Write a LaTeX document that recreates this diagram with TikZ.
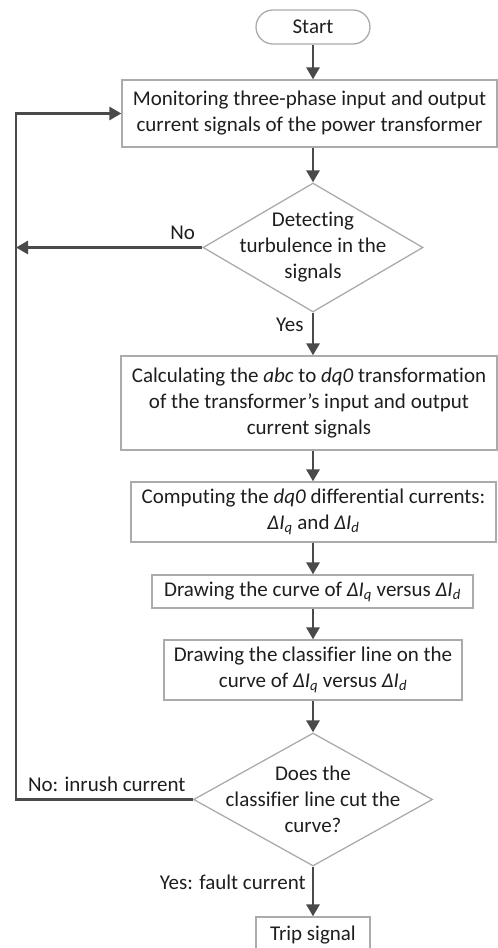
\documentclass[tikz,border=0pt]{standalone}
\usepackage{fontspec}
\setmainfont{Carlito}[Ligatures=NoCommon]
\usetikzlibrary{shapes.geometric,arrows.meta}
\definecolor{linec}{HTML}{4A4A4A}
\definecolor{boxc}{HTML}{ABABAB}
\definecolor{txtc}{HTML}{1E1E1E}
\newcommand{\dIq}{\textit{ΔI\textsubscript{q}}}
\newcommand{\dId}{\textit{ΔI\textsubscript{d}}}
\begin{document}
\begin{tikzpicture}[x=1pt,y=-1pt,
  every node/.style={font=\fontsize{21}{26}\selectfont, text=txtc},
  procbox/.style={draw=boxc, line width=1.3pt, inner sep=0pt, align=center},
  decbox/.style={draw=boxc, line width=1.3pt, shape=diamond, inner sep=0pt},
  dectext/.style={align=center, inner sep=0pt},
  arr/.style={draw=linec, line width=2.8pt, -{Triangle[length=12pt,width=13pt]}},
  lbl/.style={inner sep=0pt}
]
\useasboundingbox (0,0) rectangle (498,948);
\node[procbox, rounded corners=17pt, minimum width=114pt, minimum height=34pt] (start) at (313,27) {Start};
\node[procbox, minimum width=375pt, minimum height=67pt] (b1) at (309.5,113.5) {Monitoring three-phase input and output\\current signals of the power transformer};
\node[decbox, minimum width=220pt, minimum height=129pt] (d1) at (313,247.5) {};
\node[dectext] (d1t) at (d1) {Detecting\\turbulence in the\\signals};
\node[procbox, minimum width=376pt, minimum height=94pt] (b2) at (309,403) {Calculating the \textit{abc} to \textit{dq0} transformation\\of the transformer’s input and output\\current signals};
\node[procbox, minimum width=365pt, minimum height=60pt] (b3) at (313.5,512) {Computing the \textit{dq0} differential currents:\\\dIq{} and \dId};
\node[procbox, minimum width=321pt, minimum height=33pt] (b4) at (312.5,591.5) {Drawing the curve of \dIq{} versus \dId};
\node[procbox, minimum width=298pt, minimum height=60pt] (b5) at (313,670) {Drawing the classifier line on the\\curve of \dIq{} versus \dId};
\node[decbox, minimum width=239pt, minimum height=133pt] (d2) at (313,799.5) {};
\node[dectext] (d2t) at (d2) {Does the\\classifier line cut the\\curve?};
\node[procbox, minimum width=114pt, minimum height=36pt] (trip) at (313,935) {Trip signal};

\coordinate (lpn) at (16,247.5);
\coordinate (lp) at (16,799.5);

\draw[arr] (start) -- (start |- b1.north);
\draw[arr] (start |- b1.south) -- (d1.north);
\draw[arr] (d1.west) -- node[lbl, pos=0, anchor=south east, xshift=-6pt, yshift=6pt] (lno) {No} (lpn);
\draw[arr] (d1.south) -- node[lbl, pos=0, anchor=north east, xshift=-8pt, yshift=-4pt] (lyes) {Yes} (d1.south |- b2.north);
\draw[arr] (d1.south |- b2.south) -- (d1.south |- b3.north);
\draw[arr] (d1.south |- b3.south) -- (d1.south |- b4.north);
\draw[arr] (d1.south |- b4.south) -- (d1.south |- b5.north);
\draw[arr] (b5.south) -- (d2.north);
\draw[arr] (d2.west) -- node[lbl, pos=0, anchor=south east, xshift=-6pt, yshift=6pt] (lno2) {No: inrush current} (lp) |- (b1.west);
\draw[arr] (d2.south) -- node[lbl, pos=0, anchor=north east, xshift=-6pt, yshift=-7pt] (lyes2) {Yes: fault current} (trip.north);
\end{tikzpicture}
\end{document}
